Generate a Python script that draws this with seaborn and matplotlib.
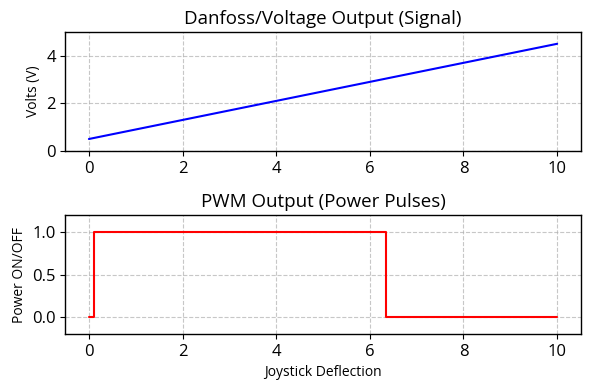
import numpy as np
import pandas as pd
import matplotlib
matplotlib.use("Agg")
import matplotlib.pyplot as plt
import seaborn as sns

# data
deflection = [0, 10]
volts = [0.5, 4.5]

pwm_x = [0, 0.1, 0.1, 6.35, 6.35, 10]
pwm_y = [0, 0, 1, 1, 0, 0]

sns.set_style("white")
plt.rcParams['font.family'] = ['Open Sans', 'DejaVu Sans']
plt.rcParams['axes.edgecolor'] = 'black'
plt.rcParams['text.color'] = 'black'
plt.rcParams['axes.labelcolor'] = 'black'
plt.rcParams['xtick.color'] = 'black'
plt.rcParams['ytick.color'] = 'black'

fig, (ax1, ax2) = plt.subplots(2, 1, figsize=(5.9, 3.89), dpi=100)

df_v = pd.DataFrame({"x": deflection, "v": volts})
sns.lineplot(data=df_v, x="x", y="v", ax=ax1, color="blue", linewidth=1.5)
ax1.set_ylim(0, 5)
ax1.set_title("Danfoss/Voltage Output (Signal)", fontsize=13.5)
ax1.set_ylabel("Volts (V)", fontsize=10)
ax1.set_xlabel("")

df_p = pd.DataFrame({"x": pwm_x, "p": pwm_y})
ax2.plot(df_p["x"], df_p["p"], color="red", linewidth=1.5)
ax2.set_ylim(-0.2, 1.2)
ax2.set_title("PWM Output (Power Pulses)", fontsize=13.5)
ax2.set_ylabel("Power ON/OFF", fontsize=10)
ax2.set_xlabel("Joystick Deflection", fontsize=10)

for ax in (ax1, ax2):
    ax.grid(True, linestyle="--", alpha=0.7, color="#b0b0b0")
    ax.tick_params(labelsize=12, left=True, bottom=True, length=3.5)
    for s in ax.spines.values():
        s.set_color("black")
        s.set_linewidth(1.0)

plt.subplots_adjust(left=0.111, right=0.984, top=0.918, bottom=0.141, hspace=0.54)
plt.savefig("out.png", dpi=100)
